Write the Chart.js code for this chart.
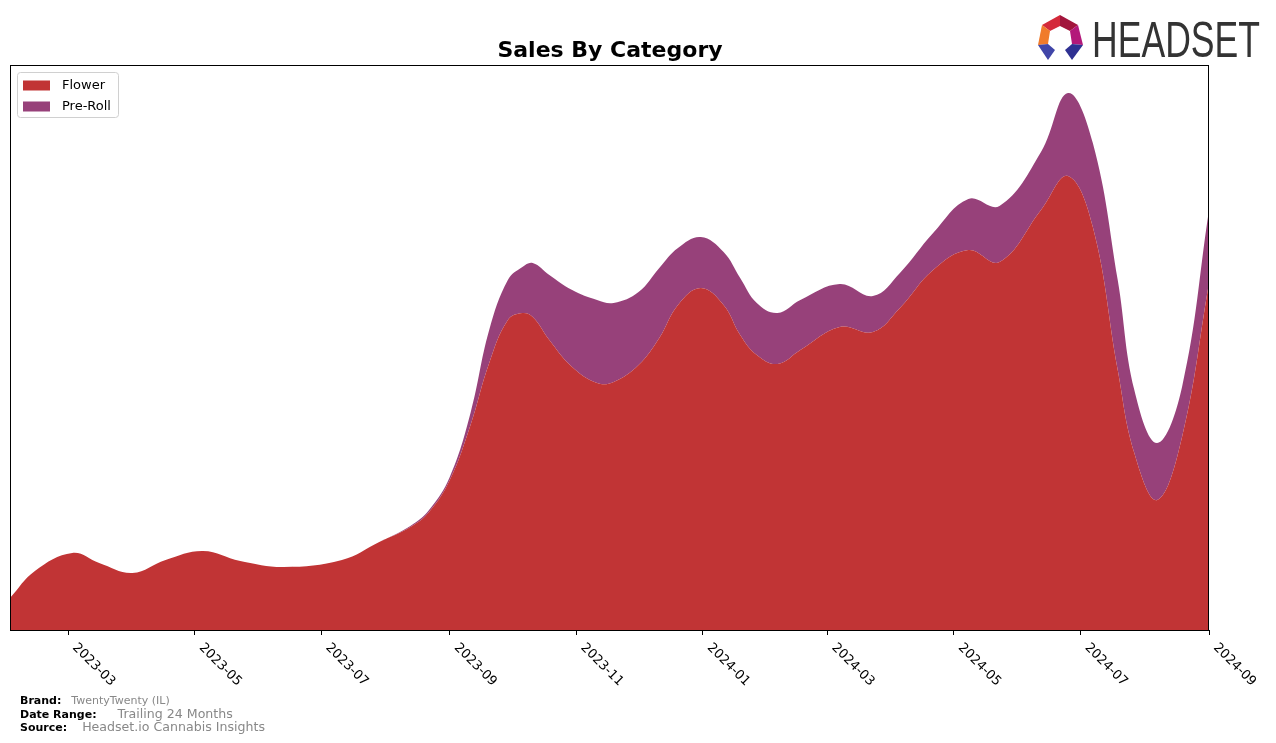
<!DOCTYPE html>
<html>
<head>
<meta charset="utf-8">
<script src="https://cdn.jsdelivr.net/npm/chart.js@4.4.1/dist/chart.umd.min.js"></script>
<style>
  body { margin: 0; background: #fff; font-family: "DejaVu Sans", sans-serif; }
  #wrap { position: relative; width: 1276px; height: 743px; }
  canvas { position: absolute; left: 0; top: 0; }
  .meta { position: absolute; left: 20px; font-size: 11px; white-space: nowrap; }
  .meta b { color: #000; }
  .meta span { color: #888; }
  #logo { position: absolute; left: 1030px; top: 8px; }
</style>
</head>
<body>
<div id="wrap">
  <canvas id="chart" width="1276" height="743"></canvas>
  <svg id="logo" width="240" height="58" viewBox="1030 8 240 58">
    <polygon points="1042,25 1060,15 1060,26 1050,31" fill="#d42a3a"/>
    <polygon points="1060,15 1078,25 1070,31 1060,26" fill="#a2153c"/>
    <polygon points="1078,25 1083,45 1072,44 1070,31" fill="#b3197a"/>
    <polygon points="1042,25 1050,31 1048,44 1038,45" fill="#f07b2b"/>
    <polygon points="1038,45 1048,44 1055,50 1048,60" fill="#4045a8"/>
    <polygon points="1083,45 1072,44 1065,50 1072,60" fill="#2f3192"/>
    <text x="1092" y="57" font-family="Liberation Sans Narrow, Liberation Sans" font-size="50" fill="#333"
          textLength="168" lengthAdjust="spacingAndGlyphs">HEADSET</text>
  </svg>
  <div class="meta" style="top:694px"><b>Brand:</b><span style="margin-left:10px">TwentyTwenty (IL)</span></div>
  <div class="meta" style="top:706px"><b>Date Range:</b><span style="margin-left:21px;font-size:12.6px">Trailing 24 Months</span></div>
  <div class="meta" style="top:719px"><b>Source:</b><span style="margin-left:15px;font-size:12.6px">Headset.io Cannabis Insights</span></div>
</div>
<script>
const dates = [
  '2023-02-01', '2023-02-13', '2023-03-03', '2023-03-16', '2023-04-01', '2023-04-17',
  '2023-05-05', '2023-05-23', '2023-06-13', '2023-07-11', '2023-07-29', '2023-08-13',
  '2023-08-22', '2023-09-01', '2023-09-11', '2023-09-20', '2023-09-29', '2023-10-06',
  '2023-10-11', '2023-10-19', '2023-10-30', '2023-11-11', '2023-11-19', '2023-12-01',
  '2023-12-11', '2023-12-20', '2023-12-31', '2024-01-11', '2024-01-19', '2024-01-27',
  '2024-02-06', '2024-02-17', '2024-03-07', '2024-03-23', '2024-04-05', '2024-04-21',
  '2024-05-08', '2024-05-23', '2024-06-12', '2024-06-25', '2024-07-07', '2024-07-19',
  '2024-07-27', '2024-08-07', '2024-08-19', '2024-09-01'
];
const flower = [
  32, 59, 77, 67, 57, 70, 79, 69, 63, 70, 88, 103,
  118, 150, 205, 267, 310, 317, 313, 290, 263, 247, 248, 265,
  292, 325, 342, 325, 295, 275, 266, 280, 303, 298, 322, 360,
  380, 368, 420, 454, 403, 260, 177, 130, 193, 347
];
const preRoll = [
  0, 0, 0, 0, 0, 0, 0, 0, 0, 0, 0, 1,
  2, 3, 12, 33, 40, 46, 54, 65, 77, 83, 79, 73,
  70, 57, 51, 53, 57, 52, 51, 50, 43, 36, 35, 37,
  51, 56, 58, 83, 84, 90, 63, 57, 50, 73
];
const tickLabels = ['2023-03', '2023-05', '2023-07', '2023-09', '2023-11',
                    '2024-01', '2024-03', '2024-05', '2024-07', '2024-09'];

const start = Date.UTC(2023, 1, 1);
function dayOf(s) {
  const p = s.split('-').map(Number);
  return (Date.UTC(p[0], p[1] - 1, p[2] || 1) - start) / 86400000;
}

const colors = { flower: '#c13435', preRoll: '#97417a' };

const frame = {
  id: 'frame',
  afterDraw(chart) {
    const ctx = chart.ctx, a = chart.chartArea, xs = chart.scales.x;
    ctx.save();
    ctx.strokeStyle = '#000';
    ctx.lineWidth = 1;
    ctx.strokeRect(a.left + 0.5, a.top + 0.5, a.right - a.left - 1, a.bottom - a.top);

    // rotated tick labels
    ctx.fillStyle = '#000';
    ctx.font = '13px "DejaVu Sans"';
    ctx.textAlign = 'left';
    ctx.textBaseline = 'top';
    tickLabels.forEach(t => {
      const x = xs.getPixelForValue(dayOf(t + '-01'));
      ctx.save();
      ctx.translate(x + 11, a.bottom + 11);
      ctx.rotate(Math.PI / 4);
      ctx.fillText(t, 0, 0);
      ctx.restore();
    });

    // title
    ctx.font = 'bold 22px "DejaVu Sans"';
    ctx.textAlign = 'center';
    ctx.textBaseline = 'alphabetic';
    ctx.fillText('Sales By Category', 610, 57);

    // legend
    ctx.strokeStyle = '#d0d0d0';
    ctx.fillStyle = '#fff';
    ctx.beginPath();
    ctx.roundRect(17.5, 72.5, 101, 45, 3);
    ctx.fill();
    ctx.stroke();
    ctx.font = '13px "DejaVu Sans"';
    ctx.textAlign = 'left';
    ctx.textBaseline = 'middle';
    chart.data.datasets.forEach((ds, i) => {
      const y = 85.5 + i * 21;
      ctx.fillStyle = ds.backgroundColor;
      ctx.fillRect(23, y - 5, 27, 10);
      ctx.fillStyle = '#000';
      ctx.fillText(ds.label, 62, y);
    });
    ctx.restore();
  }
};

const pts = arr => dates.map((d, i) => ({ x: dayOf(d), y: arr[i] }));

new Chart(document.getElementById('chart'), {
  type: 'line',
  data: {
    datasets: [
      {
        label: 'Flower',
        data: pts(flower),
        backgroundColor: colors.flower,
        borderWidth: 0,
        pointRadius: 0,
        fill: 'origin',
        tension: 0.4,
      },
      {
        label: 'Pre-Roll',
        data: pts(preRoll),
        backgroundColor: colors.preRoll,
        borderWidth: 0,
        pointRadius: 0,
        fill: '-1',
        tension: 0.4,
      }
    ]
  },
  options: {
    responsive: false,
    animation: false,
    devicePixelRatio: 1,
    layout: { padding: { left: 10, right: 67, top: 65, bottom: 113 } },
    scales: {
      x: {
        type: 'linear',
        min: 0,
        max: dayOf('2024-09-01'),
        afterBuildTicks: s => { s.ticks = tickLabels.map(t => ({ value: dayOf(t + '-01') })); },
        afterFit: s => { s.height = 0; },
        ticks: { display: false },
        grid: { drawOnChartArea: false, drawTicks: true, tickLength: 5, color: '#000' },
        border: { display: false },
      },
      y: {
        stacked: true,
        display: false,
        min: 0,
        max: 565,
      }
    },
    plugins: {
      legend: { display: false },
      tooltip: { enabled: false },
    },
  },
  plugins: [frame],
});
</script>
</body>
</html>
